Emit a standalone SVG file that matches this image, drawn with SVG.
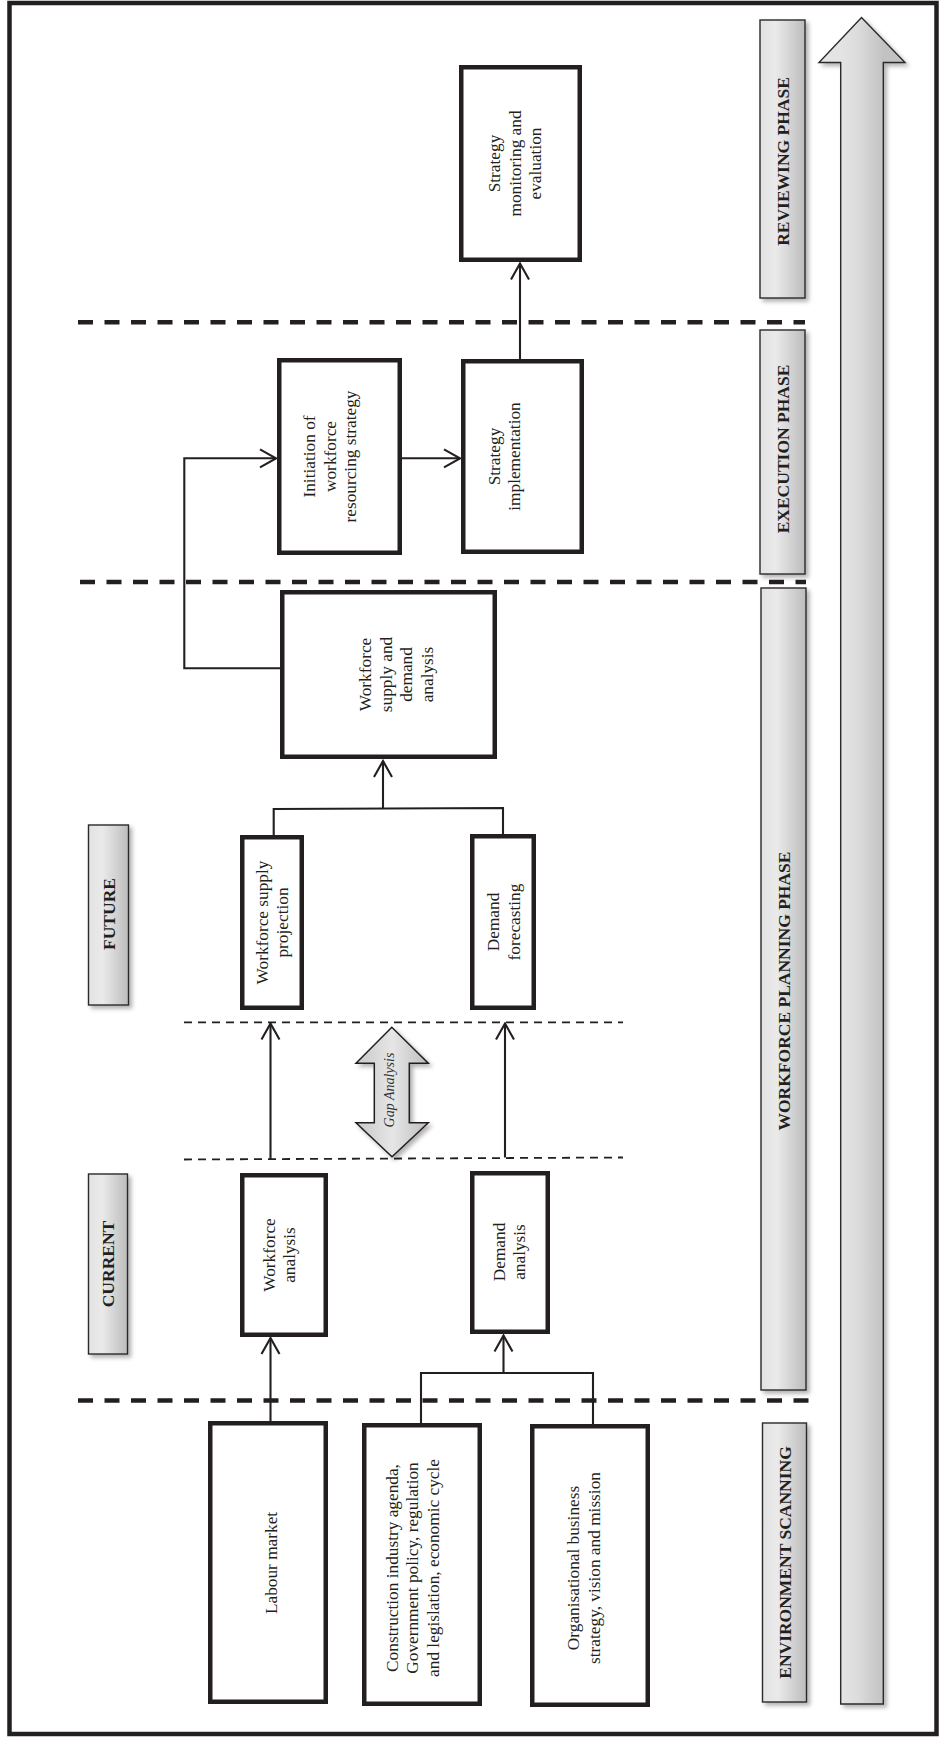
<svg xmlns="http://www.w3.org/2000/svg" width="939" height="1738" viewBox="0 0 939 1738">
<style>
.node rect{fill:#ffffff;stroke:#231f20;stroke-width:4.5}
.txt{font-family:"Liberation Serif","Times New Roman",serif;font-size:17.3px;fill:#231f20;text-anchor:middle;dominant-baseline:central}
.lbl{font-family:"Liberation Serif","Times New Roman",serif;font-size:17.5px;font-weight:bold;fill:#231f20;text-anchor:middle;dominant-baseline:central}
.gap{font-family:"Liberation Serif","Times New Roman",serif;font-size:14px;font-style:italic;fill:#333333;text-anchor:middle;dominant-baseline:central}
.phase rect,.phase polygon{fill:url(#gband);stroke:#2b2b2b;stroke-width:1.4;filter:url(#shadow)}
.conn{fill:none;stroke:#231f20;stroke-width:2.1}
.thick-dash{stroke:#231f20;stroke-width:4.5;stroke-dasharray:15 11.5;fill:none}
.thin-dash{stroke:#231f20;stroke-width:1.8;stroke-dasharray:8 6;fill:none}
</style>
<defs>
<linearGradient id="gband" x1="0" y1="0" x2="1" y2="0">
<stop offset="0" stop-color="#e2e2e2"/>
<stop offset="0.35" stop-color="#eaeaea"/>
<stop offset="1" stop-color="#bcbcbc"/>
</linearGradient>
<linearGradient id="garrow" gradientUnits="userSpaceOnUse" x1="840" y1="0" x2="884" y2="0">
<stop offset="0" stop-color="#e4e4e4"/>
<stop offset="0.4" stop-color="#dcdcdc"/>
<stop offset="1" stop-color="#c2c2c2"/>
</linearGradient>
<linearGradient id="ggap" gradientUnits="userSpaceOnUse" x1="356" y1="0" x2="429" y2="0">
<stop offset="0" stop-color="#c8c8c8"/>
<stop offset="0.5" stop-color="#e6e6e6"/>
<stop offset="1" stop-color="#bdbdbd"/>
</linearGradient>
<filter id="shadow" x="-30%" y="-10%" width="160%" height="120%">
<feDropShadow dx="3" dy="3" stdDeviation="2" flood-color="#000000" flood-opacity="0.3"/>
</filter>
<marker id="arr" markerUnits="userSpaceOnUse" viewBox="-18 -11 20 22" markerWidth="20" markerHeight="22" refX="0" refY="0" orient="auto">
<path d="M-16,-9 L0,0 L-16,9" fill="none" stroke="#231f20" stroke-width="2.1"/>
</marker>
</defs>

<rect x="0" y="0" width="939" height="1738" fill="#ffffff"/>
<rect x="9.5" y="3" width="927" height="1731" fill="none" stroke="#231f20" stroke-width="4.5"/>

<!-- big upward arrow -->
<g id="timeline-arrow" class="phase">
<polygon points="861.5,17.5 905,62.5 883.3,62.5 883.3,1704 840.7,1704 840.7,62.5 819,62.5" style="fill:url(#garrow)"/>
</g>

<!-- phase bands -->
<g id="phase-reviewing" class="phase">
<rect x="760" y="20" width="45" height="278"/>
<text class="lbl" transform="translate(782.5,161.5) rotate(-90)">REVIEWING PHASE</text>
</g>
<g id="phase-execution" class="phase">
<rect x="760" y="330" width="45" height="244"/>
<text class="lbl" transform="translate(782.5,449) rotate(-90)">EXECUTION PHASE</text>
</g>
<g id="phase-planning" class="phase">
<rect x="761" y="588" width="45" height="802"/>
<text class="lbl" transform="translate(783.5,991) rotate(-90)">WORKFORCE PLANNING PHASE</text>
</g>
<g id="phase-environment" class="phase">
<rect x="762.5" y="1423" width="44" height="279"/>
<text class="lbl" transform="translate(784.5,1562.5) rotate(-90)">ENVIRONMENT SCANNING</text>
</g>
<g id="label-future" class="phase">
<rect x="88.5" y="825" width="40" height="180"/>
<text class="lbl" transform="translate(108.5,914) rotate(-90)">FUTURE</text>
</g>
<g id="label-current" class="phase">
<rect x="88.5" y="1174" width="39" height="180"/>
<text class="lbl" transform="translate(108,1264) rotate(-90)">CURRENT</text>
</g>

<!-- dashed separators -->
<g id="separators">
<line class="thick-dash" x1="78" y1="322.3" x2="805" y2="322.3"/>
<line class="thick-dash" x1="80" y1="582" x2="806" y2="582"/>
<line class="thick-dash" x1="78" y1="1400.5" x2="817" y2="1400.5"/>
<line class="thin-dash" x1="184" y1="1022.3" x2="623" y2="1022.3"/>
<line class="thin-dash" x1="184" y1="1159.5" x2="623" y2="1157.5"/>
</g>

<!-- gap analysis arrow -->
<g id="gap-analysis">
<polygon points="391.8,1027.3 428.3,1063.3 409.3,1063.3 409.3,1122.7 428.3,1122.7 392,1156.7 356,1122.7 374.3,1122.7 374.3,1063.3 356,1063.3" fill="url(#ggap)" stroke="#231f20" stroke-width="1.5" filter="url(#shadow)"/>
<text class="gap" transform="translate(389,1090) rotate(-90)">Gap Analysis</text>
</g>

<!-- connectors -->
<g id="connectors">
<line class="conn" x1="270.5" y1="1421" x2="270.5" y2="1338" marker-end="url(#arr)"/>
<polyline class="conn" points="421,1424 421,1373 593,1373 593,1425"/>
<line class="conn" x1="503.5" y1="1373" x2="503.5" y2="1335.5" marker-end="url(#arr)"/>
<line class="conn" x1="270.5" y1="1159.5" x2="270.5" y2="1023.5" marker-end="url(#arr)"/>
<line class="conn" x1="505" y1="1157.5" x2="505" y2="1023.5" marker-end="url(#arr)"/>
<polyline class="conn" points="273.7,835 273.7,809 503,808 503,834"/>
<line class="conn" x1="383" y1="808.5" x2="383" y2="761" marker-end="url(#arr)"/>
<polyline class="conn" points="280,668.3 184.3,668.3 184.3,458.3 276,458.3" marker-end="url(#arr)"/>
<line class="conn" x1="402" y1="458.3" x2="460" y2="458.3" marker-end="url(#arr)"/>
<line class="conn" x1="520" y1="359" x2="520" y2="263.5" marker-end="url(#arr)"/>
</g>

<!-- nodes -->
<g id="node-monitoring" class="node">
<rect x="461.25" y="67.25" width="118.5" height="192.5"/>
<text class="txt" transform="translate(514.5,163.5) rotate(-90)"><tspan x="0" y="-20.5">Strategy</tspan><tspan x="0" y="0">monitoring and</tspan><tspan x="0" y="20.5">evaluation</tspan></text>
</g>
<g id="node-initiation" class="node">
<rect x="279.25" y="360.25" width="120.5" height="192.5"/>
<text class="txt" transform="translate(329.5,456.5) rotate(-90)"><tspan x="0" y="-20.5">Initiation of</tspan><tspan x="0" y="0">workforce</tspan><tspan x="0" y="20.5">resourcing strategy</tspan></text>
</g>
<g id="node-implementation" class="node">
<rect x="463.25" y="361.25" width="118.5" height="190.5"/>
<text class="txt" transform="translate(504,456.5) rotate(-90)"><tspan x="0" y="-10.25">Strategy</tspan><tspan x="0" y="10.25">implementation</tspan></text>
</g>
<g id="node-supply-demand-analysis" class="node">
<rect x="282.25" y="592.25" width="212.5" height="164.5"/>
<text class="txt" transform="translate(396,674.5) rotate(-90)"><tspan x="0" y="-30.75">Workforce</tspan><tspan x="0" y="-10.25">supply and</tspan><tspan x="0" y="10.25">demand</tspan><tspan x="0" y="30.75">analysis</tspan></text>
</g>
<g id="node-supply-projection" class="node">
<rect x="242.25" y="837.25" width="59.5" height="170.5"/>
<text class="txt" transform="translate(272,922.5) rotate(-90)"><tspan x="0" y="-10">Workforce supply</tspan><tspan x="0" y="10">projection</tspan></text>
</g>
<g id="node-demand-forecasting" class="node">
<rect x="472.25" y="836.25" width="61.5" height="171.5"/>
<text class="txt" transform="translate(503.5,922) rotate(-90)"><tspan x="0" y="-10.25">Demand</tspan><tspan x="0" y="10.25">forecasting</tspan></text>
</g>
<g id="node-workforce-analysis" class="node">
<rect x="242.25" y="1175.25" width="83.5" height="159.5"/>
<text class="txt" transform="translate(279,1255) rotate(-90)"><tspan x="0" y="-10.25">Workforce</tspan><tspan x="0" y="10.25">analysis</tspan></text>
</g>
<g id="node-demand-analysis" class="node">
<rect x="472.25" y="1173.25" width="75.5" height="158.5"/>
<text class="txt" transform="translate(509,1252) rotate(-90)"><tspan x="0" y="-10.25">Demand</tspan><tspan x="0" y="10.25">analysis</tspan></text>
</g>
<g id="node-labour-market" class="node">
<rect x="210.25" y="1423.25" width="115.5" height="278.5"/>
<text class="txt" transform="translate(271.5,1563) rotate(-90)">Labour market</text>
</g>
<g id="node-construction" class="node">
<rect x="364.25" y="1425.25" width="115.5" height="278.5"/>
<text class="txt" transform="translate(412,1568) rotate(-90)"><tspan x="0" y="-20.5">Construction industry agenda,</tspan><tspan x="0" y="0">Government policy, regulation</tspan><tspan x="0" y="20.5">and legislation, economic cycle</tspan></text>
</g>
<g id="node-organisational" class="node">
<rect x="532.25" y="1426.25" width="115.5" height="278.5"/>
<text class="txt" transform="translate(583.5,1568) rotate(-90)"><tspan x="0" y="-10.25">Organisational business</tspan><tspan x="0" y="10.25">strategy, vision and mission</tspan></text>
</g>
</svg>
